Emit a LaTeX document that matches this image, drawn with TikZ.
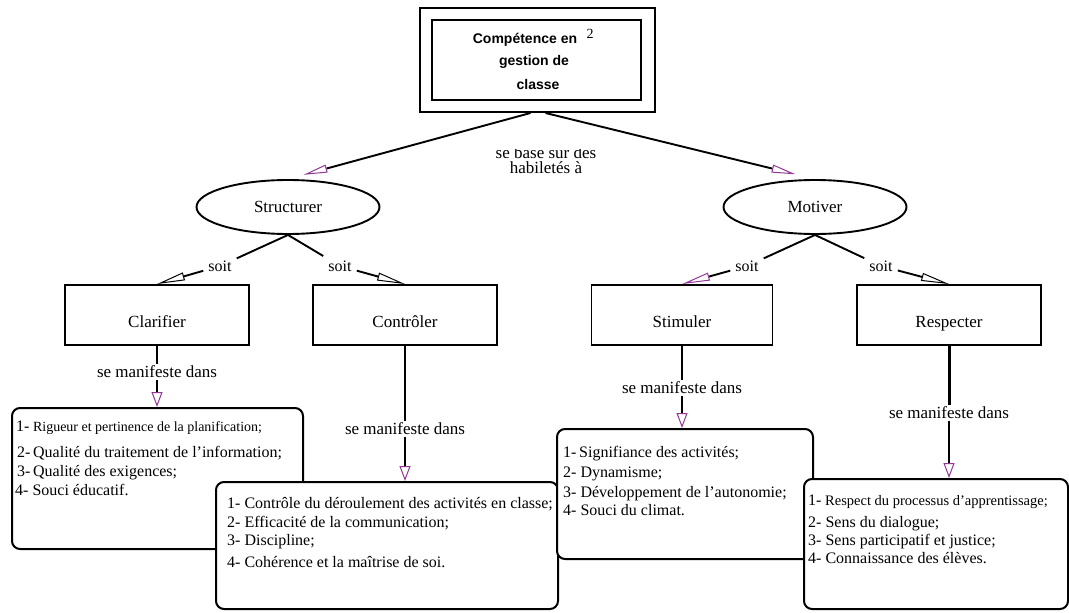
\documentclass[tikz,border=0pt]{standalone}
\usepackage{fontspec}
\setmainfont{Liberation Serif}
\setsansfont{Liberation Sans}
\usetikzlibrary{shapes.geometric,arrows.meta}
\definecolor{tipc}{RGB}{145,55,150}
\tikzset{
  soitK/.tip={Triangle[open,length=28pt,width=8pt,line width=1pt]},
  soitP/.tip={Triangle[open,length=28pt,width=8pt,line width=1pt,color=tipc]},
  topT/.tip={Triangle[open,length=24pt,width=8pt,line width=1pt,color=tipc]},
  manT/.tip={Triangle[open,length=15pt,width=11pt,line width=1pt,color=tipc]},
}
\begin{document}
\begin{tikzpicture}[x=1pt,y=-1pt,
  every node/.style={font=\rmfamily\fontsize{16}{19}\selectfont},
  frame/.style={draw,line width=2pt,inner sep=0},
  ttlline/.style={inner sep=0,font=\sffamily\bfseries\fontsize{14}{17}\selectfont},
  verbbox/.style={draw,line width=1.9pt,minimum height=60pt,inner sep=0,text height=24pt,text depth=0pt,font=\rmfamily\fontsize{17}{20}\selectfont},
  oval/.style={ellipse,draw,line width=1.9pt,minimum width=183pt,minimum height=54pt,inner sep=0,font=\rmfamily\fontsize{17}{20}\selectfont},
  listbox/.style={draw,fill=white,line width=2pt,rounded corners=8pt,anchor=north west,inner sep=0},
  item/.style={anchor=base west,inner sep=0,font=\rmfamily\fontsize{16}{19}\selectfont},
  conn/.style={line width=1.9pt},
  soitlbl/.style={inner sep=5pt,font=\rmfamily\fontsize{16}{19}\selectfont},
  manlbl/.style={inner sep=2pt,font=\rmfamily\fontsize{17}{20}\selectfont},
]
\useasboundingbox (0,0) rectangle (1069,613);

% title
\node[frame,minimum width=235pt,minimum height=104pt] (outer) at (537.5,60) {};
\node[frame,minimum width=209pt,minimum height=80pt] (inner) at (536.5,60) {};
\node[ttlline] (t1) at (525,40) {Compétence en};
\node[ttlline] (t2) at (534,62) {gestion de};
\node[ttlline] (t3) at (538,84) {classe};
\node[inner sep=0,font=\rmfamily\fontsize{14}{16}\selectfont] (sup2) at (590,34) {2};
\begin{scope}
  \clip (470,149) rectangle (630,185);
  \node[align=center,inner sep=0,font=\rmfamily\fontsize{17}{15.5}\selectfont] (base) at (546,160) {se base sur des\\habiletés à};
\end{scope}

% ellipses
\node[oval] (struct) at (288,207) {Structurer};
\node[oval] (motiv) at (815,207) {Motiver};

% verb boxes
\node[verbbox,minimum width=184pt] (clar) at (157,315) {Clarifier};
\node[verbbox,minimum width=184pt] (ctrl) at (405,315) {Contrôler};
\node[verbbox,minimum width=181pt] (stim) at (682,315) {Stimuler};
\node[verbbox,minimum width=184pt] (resp) at (949,315) {Respecter};

% soit labels
\node[soitlbl] (sA) at (220,266) {soit};
\node[soitlbl] (sB) at (340,266) {soit};
\node[soitlbl] (sC) at (747,266) {soit};
\node[soitlbl] (sD) at (881,266) {soit};

% list boxes
\node[listbox,minimum width=291pt,minimum height=141pt] (clarL) at (11,407) {};
\node[item] (cl1) at (16,431) {1-\fontsize{14}{16}\selectfont\ Rigueur et pertinence de la planification;};
\node[item] (cl2) at (17,457) {2-\,Qualité du traitement de l’information;};
\node[item] (cl3) at (17,476) {3-\,Qualité des exigences;};
\node[item] (cl4) at (15,495) {4- Souci éducatif.};

\node[listbox,minimum width=342pt,minimum height=127pt] (ctrlL) at (215,481) {};
\node[item] (co1) at (227,508) {1- Contrôle du déroulement des activités en classe;};
\node[item] (co2) at (227,527) {2- Efficacité de la communication;};
\node[item] (co3) at (227,545) {3- Discipline;};
\node[item] (co4) at (227,567) {4- Cohérence et la maîtrise de soi.};

\node[listbox,minimum width=256pt,minimum height=130pt] (stimL) at (556,428) {};
\node[item] (st1) at (563,457) {1-\,Signifiance des activités;};
\node[item] (st2) at (563,477) {2- Dynamisme;};
\node[item] (st3) at (563,497) {3- Développement de l’autonomie;};
\node[item] (st4) at (563,515) {4- Souci du climat.};

\node[listbox,minimum width=264pt,minimum height=130pt] (respL) at (803,478) {};
\node[item] (re1) at (808,505) {1-\fontsize{14.5}{16}\selectfont\ Respect du processus d’apprentissage;};
\node[item] (re2) at (808,527) {2- Sens du dialogue;};
\node[item] (re3) at (808,545) {3- Sens participatif et justice;};
\node[item] (re4) at (808,563) {4- Connaissance des élèves.};

% manifest labels
\node[manlbl] (mA) at (157,372) {se manifeste dans};
\node[manlbl] (mB) at (405,429) {se manifeste dans};
\node[manlbl] (mC) at (682,388) {se manifeste dans};
\node[manlbl] (mD) at (949,413) {se manifeste dans};

% top connectors
\draw[conn,-{topT},shorten >=16pt] ([xshift=-7pt]outer.south) -- (struct.north);
\draw[conn,-{topT},shorten >=20pt] ([xshift=8pt]outer.south) -- (motiv.north);

% soit connectors
\draw[conn] (struct.south) -- (sA);
\draw[conn,-{soitK}] (sA) -- (clar.north);
\draw[conn] (struct.south) -- (sB);
\draw[conn,-{soitK}] (sB) -- (ctrl.north);
\draw[conn] (motiv.south) -- (sC);
\draw[conn,-{soitP}] (sC) -- (stim.north);
\draw[conn] (motiv.south) -- (sD);
\draw[conn,-{soitK}] (sD) -- (resp.north);

% manifest connectors
\draw[conn] (clar.south) -- (mA);
\draw[conn,-{manT}] (mA) -- (clar.south |- clarL.north);
\draw[conn] (ctrl.south) -- (mB);
\draw[conn,-{manT}] (mB) -- (ctrl.south |- ctrlL.north);
\draw[conn] (stim.south) -- (mC);
\draw[conn,-{manT}] (mC) -- (stim.south |- stimL.north);
\draw[line width=3pt] (resp.south) -- (mD);
\draw[conn,-{manT}] (mD) -- (resp.south |- respL.north);
\end{tikzpicture}
\end{document}
